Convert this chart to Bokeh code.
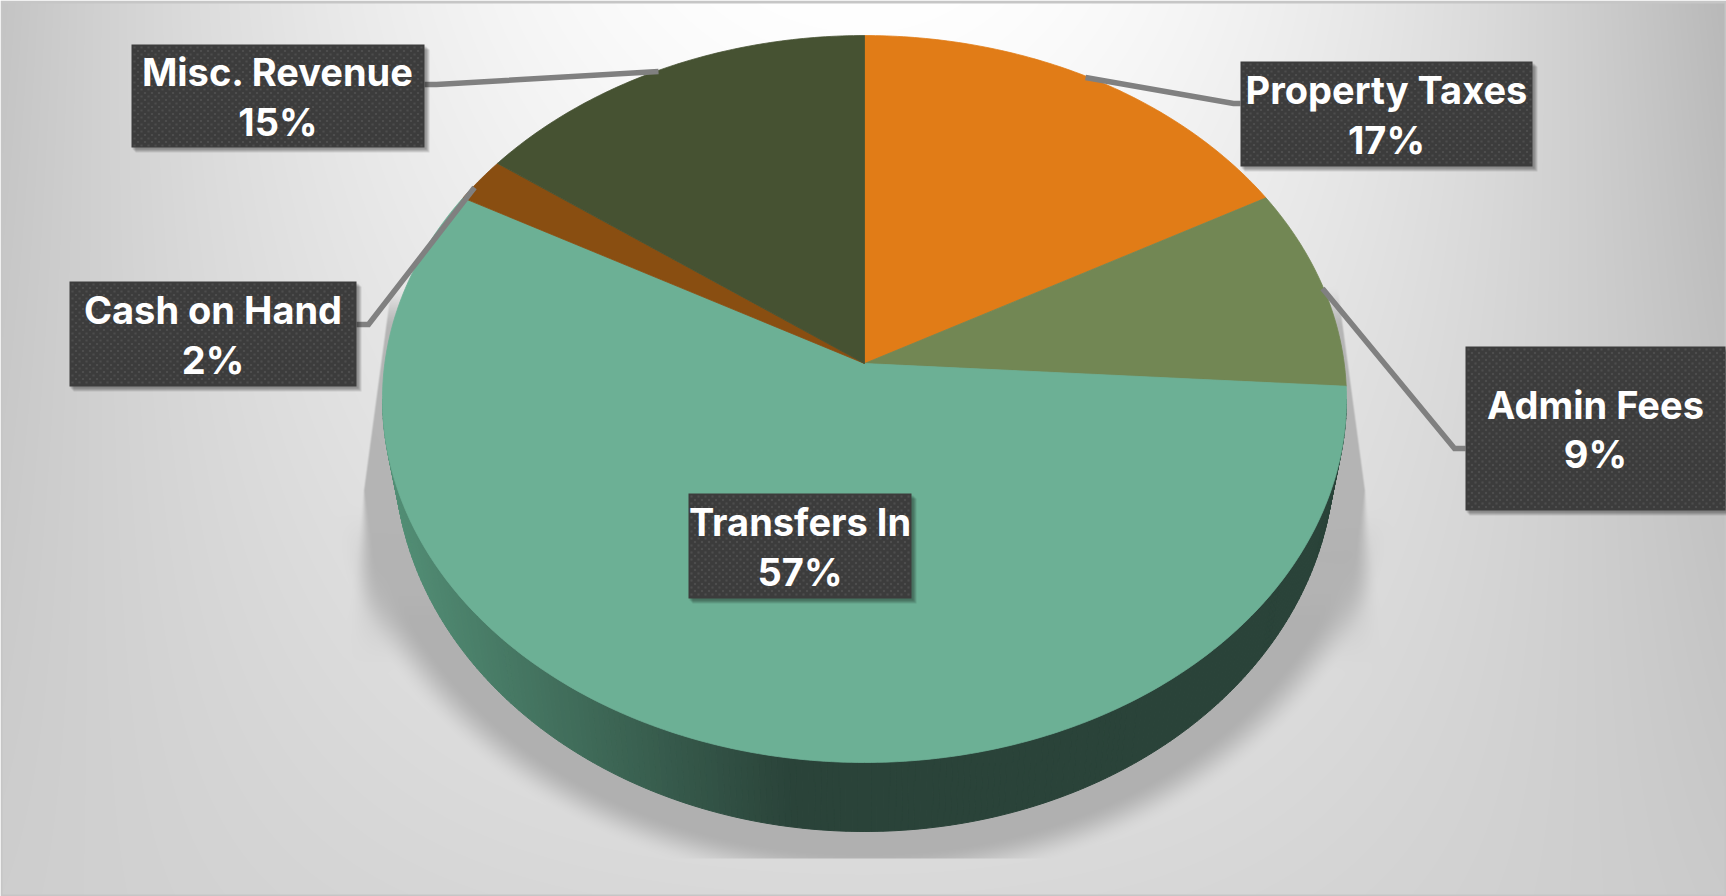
import numpy as np
from bokeh.core.properties import value
from bokeh.embed import file_html
from bokeh.models import Range1d
from bokeh.plotting import figure
from bokeh.resources import INLINE

W, H = 1726, 896

# Budget shares, clockwise from twelve o'clock
categories = ["Property Taxes", "Admin Fees", "Transfers In", "Cash on Hand", "Misc. Revenue"]
shares = [17, 9, 57, 2, 15]
slice_colors = ["#e17c17", "#728754", "#6cb095", "#894e11", "#465232"]

# Label boxes: left, right, top, bottom in page pixels
box_left = [1240, 1465, 688, 69, 131]
box_right = [1532, 1725, 911, 356, 424]
box_top = [61, 346, 493, 281, 44]
box_bottom = [166, 510, 598, 386, 147]

# Leader lines from box edge to slice rim
leader_x = [[1240, 1233, 1085], [1465, 1454, 1322], [], [356, 368, 474], [424, 436, 658]]
leader_y = [[103, 103, 77], [448, 448, 288], [], [324, 324, 187], [84, 84, 71]]

# Tilted disc: apex, horizontal and vertical reach, perspective strength
APEX_X, APEX_Y = 864.0, 363.0
REACH_X, REACH_Y, PERSPECTIVE = 479.7, 360.0, 0.0977
# Rims seen as ellipses: the top face and the bottom edge of the disc
TOP_RIM = (864.0, 398.5, 482.0, 363.5)
BOTTOM_RIM = (864.0, 455.0, 470.0, 376.0)


def flip(y):
    return H - np.asarray(y, dtype=float)


def disc_point(theta):
    u, v = np.sin(theta), np.cos(theta)
    d = 1 + PERSPECTIVE * v
    return APEX_X + REACH_X * u / d, APEX_Y - REACH_Y * v / d


def smooth(t):
    t = np.clip(t, 0, 1)
    return t * t * (3 - 2 * t)


def backdrop():
    yy, xx = np.mgrid[0:H, 0:W].astype(float)
    yy += 0.5
    xx += 0.5
    dx = np.abs(xx - 864) / 864
    fy = yy / H
    centre = 255 - 38 * fy ** 1.1
    edge_left = 196 + 10 * fy
    edge_right = 184 + 18 * fy
    edge = np.where(xx < 864, edge_left, edge_right)
    grey = centre + (edge - centre) * dx ** 2.0

    # Soft floor shadow round the disc, cut off flat underneath
    cx, cy, a, b = BOTTOM_RIM
    rho = np.sqrt(((xx - cx) / a) ** 2 + ((yy - cy) / b) ** 2)
    dist = (rho - 1) * 440
    halo = (1 - smooth((dist - 24) / 42)) * smooth((yy - 500) / 130)

    # Flared wedges at either side of the disc, crisp above and dissolving below
    reach = np.abs(xx - 864) - 479 - (yy - 324) * 0.135
    soft = 2 + np.clip(yy - 490, 0, None) * 0.3
    wedge = smooth(-reach / soft) * smooth((675 - yy) / 125) * smooth((yy - 285) / 45)
    wedge = wedge * 0.9

    shade = 1 - (1 - halo) * (1 - wedge)
    shade = np.where(yy < 858, shade, 0)
    grey = grey + (176 - grey) * shade

    # Thin frame
    frame = (xx < 2) | (xx > W - 2) | (yy < 3) | (yy > H - 2)
    grey = np.where(frame, 198, grey)

    g = np.clip(grey, 0, 255).astype(np.uint32)
    img = (255 << 24) | (g << 16) | (g << 8) | g
    return img[::-1].astype(np.uint32)


p = figure(width=W, height=H, output_backend="svg", toolbar_location=None,
           x_range=Range1d(0, W), y_range=Range1d(0, H), min_border=0)
p.axis.visible = False
p.grid.visible = False
p.outline_line_color = None

p.image_rgba(image=[backdrop()], x=0, y=0, dw=W, dh=H)

# Disc wall: thin strips shaded from mid green on the left to deep green
phi = np.linspace(0, np.pi, 241)
tcx, tcy, ta, tb = TOP_RIM
bcx, bcy, ba, bb = BOTTOM_RIM
dark = np.array([0x2a, 0x43, 0x39], dtype=float)
light = np.array([0x52, 0x8e, 0x75], dtype=float)
wall_xs, wall_ys, wall_colors = [], [], []
for a0, a1 in zip(phi[:-1], phi[1:]):
    xs = [tcx + ta * np.cos(a0), tcx + ta * np.cos(a1), bcx + ba * np.cos(a1), bcx + ba * np.cos(a0)]
    ys = [tcy + tb * np.sin(a0), tcy + tb * np.sin(a1), bcy + bb * np.sin(a1), bcy + bb * np.sin(a0)]
    mid = (xs[0] + xs[1]) / 2
    t = np.clip((790 - mid) / 400, 0, 1)
    c = dark + (light - dark) * t
    wall_xs.append(xs)
    wall_ys.append(flip(ys).tolist())
    wall_colors.append("#%02x%02x%02x" % tuple(int(round(v)) for v in c))
p.patches(wall_xs, wall_ys, fill_color=wall_colors, line_color=wall_colors, line_width=1)

# Top face slices
edges = np.cumsum([0] + shares) / sum(shares) * 2 * np.pi
for start, stop, color in zip(edges[:-1], edges[1:], slice_colors):
    theta = np.linspace(start, stop, max(8, int((stop - start) * 80)))
    rx, ry = disc_point(theta)
    xs = np.r_[APEX_X, rx]
    ys = np.r_[APEX_Y, ry]
    p.patch(xs, flip(ys), fill_color=color, line_color=color, line_width=0.8)

# Leader lines
for lx, ly in zip(leader_x, leader_y):
    if lx:
        p.line(lx, flip(ly), line_color="#808080", line_width=5.5, line_join="miter")

# Label boxes with a soft drop shadow and a fine dotted weave
for i in range(4, 0, -1):
    p.quad(left=[v + i for v in box_left], right=[v + i + 1 for v in box_right],
           top=flip([v + i + 1 for v in box_top]), bottom=flip([v + i + 1 for v in box_bottom]),
           fill_color="#000000", fill_alpha=0.1, line_color=None)
p.quad(left=box_left, right=box_right, top=flip(box_top), bottom=flip(box_bottom),
       fill_color="#3c3c3c", line_color=None)

dot_x, dot_y = [], []
for l, r, t, b in zip(box_left, box_right, box_top, box_bottom):
    for row, y in enumerate(np.arange(t + 3, b - 1, 3.5)):
        offset = 3.5 if row % 2 else 0
        for x in np.arange(l + 3 + offset, r - 1, 7):
            dot_x.append(x)
            dot_y.append(y)
p.scatter(dot_x, flip(dot_y), marker="square", size=2.2, fill_color="#4d4d4d", line_color=None)

# Label text, two lines centred in each box
names_x = [(l + r) / 2 for l, r in zip(box_left, box_right)]
mid_y = np.array([(t + b) / 2 for t, b in zip(box_top, box_bottom)])
percent_labels = [f"{v}%" for v in shares]
p.text(names_x, flip(mid_y - 24), text=categories, text_color="#ffffff", text_align="center",
       text_baseline="middle", text_font=value("Inter"), text_font_style="bold", text_font_size="38px")
p.text(names_x, flip(mid_y + 25.5), text=percent_labels, text_color="#ffffff", text_align="center",
       text_baseline="middle", text_font=value("Inter"), text_font_style="bold", text_font_size="38px")

open("out.html", "w").write(file_html(p, INLINE))
